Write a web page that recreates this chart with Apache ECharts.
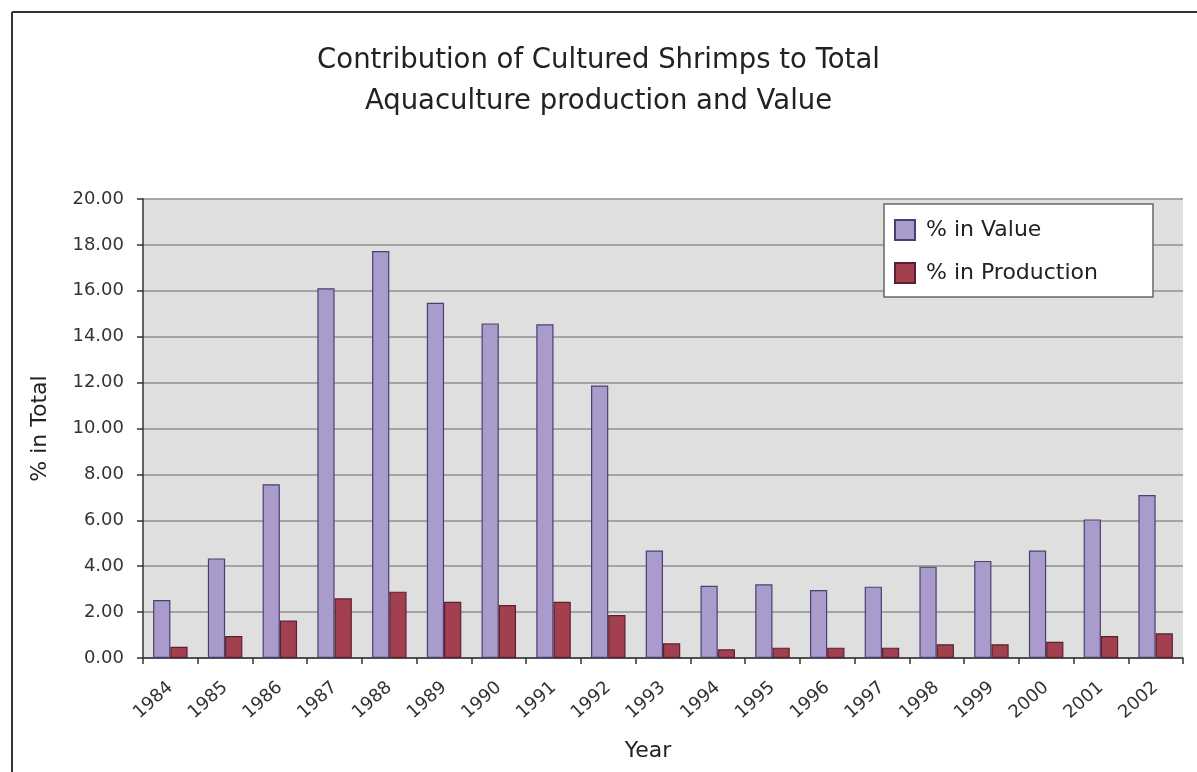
<!DOCTYPE html>
<html>
<head>
<meta charset="utf-8">
<script src="https://cdn.jsdelivr.net/npm/echarts@6/dist/echarts.min.js"></script>
<style>
  html, body { margin: 0; padding: 0; background: #ffffff; }
  #chart { width: 1197px; height: 772px; }
</style>
</head>
<body>
<div id="chart"></div>
<script>
const years = ['1984','1985','1986','1987','1988','1989','1990','1991','1992','1993','1994','1995','1996','1997','1998','1999','2000','2001','2002'];
const valuePct = [2.53, 4.34, 7.57, 16.11, 17.73, 15.48, 14.58, 14.54, 11.87, 4.68, 3.15, 3.21, 2.96, 3.11, 3.98, 4.23, 4.68, 6.04, 7.10];
const productionPct = [0.49, 0.96, 1.63, 2.60, 2.89, 2.45, 2.31, 2.45, 1.87, 0.64, 0.38, 0.45, 0.45, 0.45, 0.60, 0.60, 0.71, 0.96, 1.08];
const seriesNames = ['% in Value', '% in Production'];
const titleLines = ['Contribution of Cultured Shrimps to Total', 'Aquaculture production and Value'];
const yMin = 0, yMax = 20, yStep = 2;

const FONT = 'DejaVu Sans';
const chart = echarts.init(document.getElementById('chart'), null, { renderer: 'canvas' });

chart.setOption({
  backgroundColor: '#ffffff',
  animation: false,
  title: {
    text: titleLines.join('\n'),
    left: 'center',
    top: 40,
    padding: [0, 10, 0, 0],
    textStyle: { fontFamily: FONT, fontSize: 27.5, fontWeight: 'normal', color: '#222222', lineHeight: 41 }
  },
  graphic: [
    { type: 'line', shape: { x1: 12, y1: 12, x2: 1197, y2: 12 }, style: { stroke: '#333333', lineWidth: 2 }, z: 100 },
    { type: 'line', shape: { x1: 12, y1: 12, x2: 12, y2: 772 }, style: { stroke: '#333333', lineWidth: 2 }, z: 100 },
    { type: 'rect', shape: { x: 884, y: 204, width: 269, height: 93 }, style: { fill: '#ffffff', stroke: '#666666', lineWidth: 1.5 }, z: 10 }
  ],
  legend: {
    orient: 'vertical',
    left: 894,
    top: 219,
    padding: 0,
    itemWidth: 20,
    itemHeight: 20,
    itemGap: 21,
    icon: 'rect',
    z: 20,
    textStyle: { fontFamily: FONT, fontSize: 22, color: '#222222', lineHeight: 22, padding: [0, 0, 0, 6] },
    data: seriesNames
  },
  grid: {
    left: 143, top: 199, right: 14, bottom: 114,
    show: true, backgroundColor: '#dfdfdf', borderWidth: 0
  },
  xAxis: {
    type: 'category',
    data: years,
    boundaryGap: true,
    name: 'Year',
    nameLocation: 'middle',
    nameGap: 82,
    nameTextStyle: { fontFamily: FONT, fontSize: 22, color: '#222222', padding: [0, 30, 0, 0] },
    axisLine: { show: true, lineStyle: { color: '#333333', width: 1.5 } },
    axisTick: { show: true, alignWithLabel: false, length: 6, lineStyle: { color: '#333333', width: 1.5 } },
    axisLabel: { rotate: 42, margin: 27, fontFamily: FONT, fontSize: 18, color: '#333333', interval: 0 },
    splitLine: { show: false }
  },
  yAxis: {
    type: 'value',
    min: yMin, max: yMax, interval: yStep,
    name: '% in Total',
    nameLocation: 'middle',
    nameGap: 92,
    nameTextStyle: { fontFamily: FONT, fontSize: 22, color: '#222222' },
    axisLine: { show: true, lineStyle: { color: '#333333', width: 1.5 } },
    axisTick: { show: true, inside: false, length: 6, lineStyle: { color: '#333333', width: 1.5 } },
    axisLabel: { margin: 19, fontFamily: FONT, fontSize: 18, color: '#333333', formatter: v => v.toFixed(2) },
    splitLine: { show: true, lineStyle: { color: '#8f8f8f', width: 1.5 } }
  },
  series: [
    {
      name: seriesNames[0],
      type: 'bar',
      data: valuePct,
      barGap: '0%',
      barCategoryGap: '37%',
      itemStyle: { color: '#a99bcb', borderColor: '#4a4070', borderWidth: 1.2 }
    },
    {
      name: seriesNames[1],
      type: 'bar',
      data: productionPct,
      barGap: '0%',
      barCategoryGap: '37%',
      itemStyle: { color: '#a3404f', borderColor: '#5a2030', borderWidth: 1.2 }
    }
  ]
});
</script>
</body>
</html>
